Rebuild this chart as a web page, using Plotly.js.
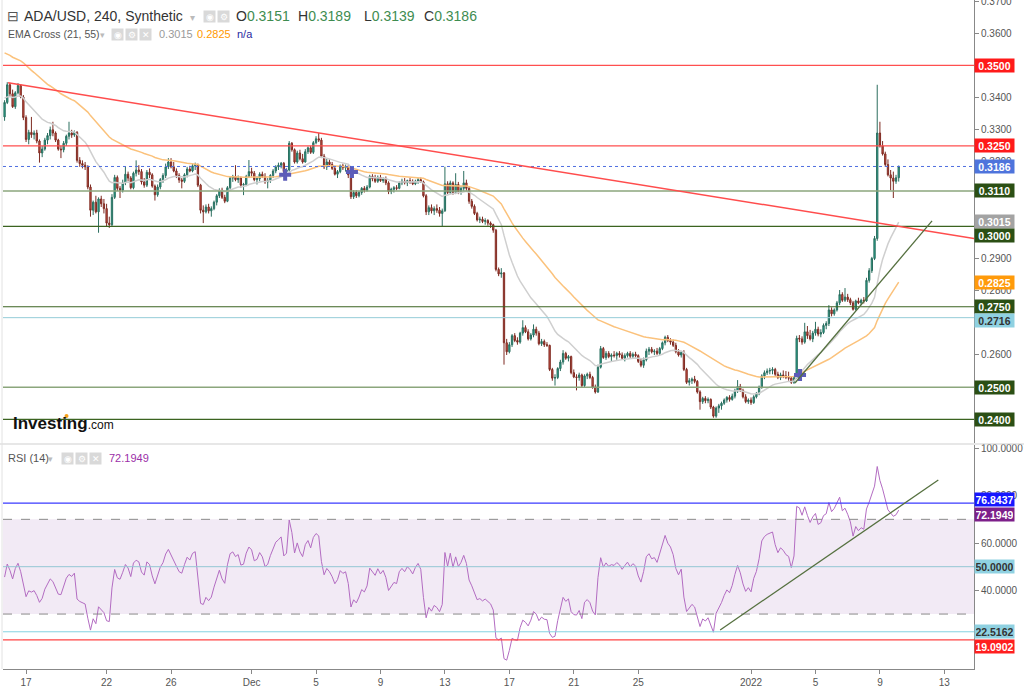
<!DOCTYPE html>
<html><head><meta charset="utf-8">
<script src="https://cdn.plot.ly/plotly-3.0.1.min.js"></script>
<style>html,body{margin:0;padding:0;background:#fff}#chart{width:1024px;height:687px}</style>
</head><body><div id="chart"></div>
<script>
// ---- DATA (prices in units of 0.0001 USD), 4h candles from 2021-11-15 16:00 ----
const firstCandle = '2021-11-15T16:00:00Z';
const candleHours = 4;
const open = [
3340,3385,
3440,3412,3372,3415,3438,3402,
3338,3270,3292,3285,3290,3265,
3228,3240,3268,3282,3300,3290,
3268,3240,3238,3258,3280,3290,
3284,3292,3205,3195,3190,3185,
3122,3050,3075,3045,3085,3070,
3055,3010,3005,3090,3152,3118,
3112,3135,3162,3150,3120,3165,
3175,3170,3138,3128,3168,3160,
3125,3098,3122,3145,3158,3185,
3200,3185,3172,3158,3144,3140,
3160,3178,3172,3188,3192,3128,
3050,3045,3060,3048,3055,3075,
3095,3112,3090,3078,3120,3150,
3155,3145,3150,3128,3130,3155,
3170,3165,3145,3148,3162,3155,
3138,3142,3158,3172,3185,3190,
3196,3170,3175,3258,3238,3200,
3228,3210,3200,3232,3244,3230,
3260,3272,3268,3218,3185,3200,
3192,3180,3162,3170,3188,3182,
3185,3160,3092,3105,3095,3105,
3118,3112,3122,3155,3148,3140,
3152,3142,3148,3135,3108,3115,
3120,3118,3135,3140,3135,3142,
3138,3132,3140,3145,3138,3095,
3045,3058,3048,3055,3050,3040,
3048,3132,3105,3135,3105,3130,
3108,3118,3135,3118,3078,3062,
3040,3020,3022,3015,3018,3010,
3005,2988,2866,2852,2855,2638,
2610,2632,2660,2645,2640,2668,
2685,2672,2650,2662,2680,2668,
2635,2642,2632,2630,2555,2528,
2530,2558,2578,2605,2590,2595,
2545,2532,2530,2538,2505,2535,
2540,2530,2500,2485,2562,2620,
2592,2605,2595,2600,2598,2605,
2600,2590,2598,2605,2596,2602,
2598,2580,2568,2585,2612,2618,
2610,2612,2605,2620,2638,2655,
2645,2640,2630,2610,2600,2608,
2555,2515,2520,2525,2518,2485,
2455,2465,2458,2462,2438,2410,
2435,2442,2450,2460,2468,2462,
2472,2488,2502,2490,2470,2455,
2460,2452,2470,2480,2500,2535,
2545,2550,2552,2555,2540,2530,
2538,2535,2530,2528,2515,2530,
2652,2650,2640,2672,2660,2650,
2668,2680,2665,2670,2692,2698,
2740,2728,2740,2762,2788,2770,
2780,2772,2762,2742,2768,2762,
2770,2768,2832,2862,2900,2962,
3290,3250,3225,3192,3160,3150,
3140,3151];
const high = [
3392,3448,
3446,3425,3420,3445,3442,3408,
3345,3300,3340,3298,3300,3270,
3250,3275,3290,3310,3325,3295,
3272,3250,3265,3285,3325,3300,
3298,3296,3215,3205,3200,3190,
3130,3080,3095,3090,3095,3085,
3070,3030,3100,3160,3158,3125,
3145,3185,3170,3156,3170,3205,
3190,3178,3150,3175,3180,3165,
3130,3130,3150,3165,3195,3212,
3212,3200,3180,3165,3150,3165,
3185,3188,3195,3198,3195,3132,
3065,3068,3070,3062,3080,3100,
3118,3120,3098,3125,3155,3160,
3190,3158,3155,3135,3160,3206,
3182,3172,3155,3168,3170,3165,
3150,3162,3178,3190,3198,3200,
3200,3180,3265,3262,3242,3235,
3238,3225,3240,3248,3250,3265,
3280,3290,3275,3225,3210,3208,
3200,3188,3175,3192,3195,3192,
3190,3165,3112,3112,3110,3122,
3125,3128,3160,3162,3160,3158,
3160,3152,3155,3140,3120,3125,
3128,3140,3148,3150,3145,3150,
3146,3145,3150,3152,3142,3100,
3065,3068,3062,3068,3060,3055,
3185,3140,3142,3140,3165,3138,
3125,3172,3145,3125,3085,3068,
3045,3030,3030,3025,3022,3015,
3008,2992,2872,2870,2858,2650,
2640,2665,2668,2655,2672,2708,
2692,2680,2668,2695,2688,2675,
2650,2648,2640,2632,2560,2540,
2562,2585,2615,2610,2600,2598,
2555,2540,2545,2542,2540,2545,
2548,2535,2508,2570,2628,2625,
2612,2612,2605,2612,2610,2612,
2608,2605,2610,2612,2608,2610,
2602,2588,2592,2620,2625,2625,
2618,2622,2625,2642,2660,2662,
2652,2648,2638,2618,2612,2615,
2560,2528,2530,2535,2522,2490,
2470,2472,2468,2465,2442,2440,
2448,2455,2465,2472,2475,2480,
2495,2522,2510,2495,2478,2465,
2468,2475,2485,2505,2540,2552,
2558,2560,2562,2560,2548,2545,
2552,2550,2548,2532,2535,2660,
2662,2658,2700,2690,2678,2675,
2703,2688,2680,2698,2705,2755,
2748,2745,2768,2802,2795,2808,
2790,2778,2768,2772,2778,2775,
2780,2840,2870,2905,2970,3440,
3325,3265,3232,3208,3175,3170,
3160,3189];
const low = [
3328,3380,
3405,3368,3365,3410,3398,3330,
3262,3255,3275,3270,3258,3198,
3215,3235,3255,3270,3280,3262,
3235,3212,3230,3250,3270,3275,
3278,3198,3185,3180,3175,3115,
3030,3035,3040,2980,3060,3040,
3000,2995,3000,3085,3110,3088,
3105,3128,3140,3115,3115,3155,
3160,3130,3120,3122,3150,3120,
3080,3092,3115,3135,3150,3178,
3180,3168,3150,3135,3118,3135,
3152,3168,3168,3175,3122,3040,
3010,3040,3040,3030,3050,3065,
3088,3085,3072,3075,3115,3138,
3140,3135,3120,3097,3125,3150,
3155,3140,3130,3140,3150,3132,
3118,3135,3150,3165,3175,3180,
3165,3158,3170,3232,3195,3195,
3205,3195,3198,3225,3225,3225,
3255,3262,3212,3178,3175,3185,
3175,3158,3150,3165,3175,3170,
3150,3085,3085,3088,3090,3098,
3105,3108,3118,3140,3135,3135,
3138,3135,3128,3100,3100,3105,
3112,3115,3128,3130,3125,3132,
3128,3128,3132,3135,3090,3035,
3035,3040,3035,3042,3030,2998,
3045,3100,3100,3098,3100,3100,
3098,3110,3110,3070,3055,3035,
3015,3010,3010,3005,3002,2995,
2980,2860,2845,2840,2570,2600,
2605,2625,2640,2632,2635,2660,
2668,2645,2645,2655,2660,2630,
2628,2625,2625,2550,2520,2505,
2525,2550,2570,2585,2580,2540,
2528,2490,2520,2500,2498,2525,
2525,2495,2480,2482,2558,2588,
2585,2590,2580,2592,2585,2592,
2585,2580,2592,2590,2588,2592,
2575,2562,2560,2580,2600,2605,
2600,2600,2600,2615,2630,2640,
2632,2625,2605,2595,2592,2550,
2510,2505,2510,2512,2480,2430,
2448,2450,2450,2432,2405,2405,
2420,2430,2445,2452,2455,2458,
2465,2482,2485,2465,2450,2448,
2445,2448,2465,2475,2495,2525,
2538,2540,2540,2535,2525,2522,
2528,2525,2520,2510,2510,2525,
2640,2632,2635,2650,2645,2640,
2660,2658,2655,2665,2680,2690,
2720,2722,2735,2755,2765,2765,
2765,2755,2738,2738,2758,2755,
2760,2765,2825,2855,2895,2955,
3245,3220,3185,3155,3112,3088,
3132,3139];
const close = [
3385,3440,
3412,3372,3415,3438,3402,3338,
3270,3292,3285,3290,3265,3228,
3240,3268,3282,3300,3290,3268,
3240,3238,3258,3280,3290,3284,
3292,3205,3195,3190,3185,3122,
3050,3075,3045,3085,3070,3055,
3010,3005,3090,3152,3118,3112,
3135,3162,3150,3120,3165,3175,
3170,3138,3128,3168,3160,3125,
3098,3122,3145,3158,3185,3200,
3185,3172,3158,3144,3140,3160,
3178,3172,3188,3192,3128,3050,
3045,3060,3048,3055,3075,3095,
3112,3090,3078,3120,3150,3155,
3145,3150,3128,3130,3155,3170,
3165,3145,3148,3162,3155,3138,
3142,3158,3172,3185,3190,3196,
3170,3175,3258,3238,3200,3228,
3210,3200,3232,3244,3230,3260,
3272,3268,3218,3185,3200,3192,
3180,3162,3170,3188,3182,3185,
3160,3092,3105,3095,3105,3118,
3112,3122,3155,3148,3140,3152,
3142,3148,3135,3108,3115,3120,
3118,3135,3140,3135,3142,3138,
3132,3140,3145,3138,3095,3045,
3058,3048,3055,3050,3040,3048,
3132,3105,3135,3105,3130,3108,
3118,3135,3118,3078,3062,3040,
3020,3022,3015,3018,3010,3005,
2988,2866,2852,2855,2638,2610,
2632,2660,2645,2640,2668,2685,
2672,2650,2662,2680,2668,2635,
2642,2632,2630,2555,2528,2530,
2558,2578,2605,2590,2595,2545,
2532,2530,2538,2505,2535,2540,
2530,2500,2485,2562,2620,2592,
2605,2595,2600,2598,2605,2600,
2590,2598,2605,2596,2602,2598,
2580,2568,2585,2612,2618,2610,
2612,2605,2620,2638,2655,2645,
2640,2630,2610,2600,2608,2555,
2515,2520,2525,2518,2485,2455,
2465,2458,2462,2438,2410,2435,
2442,2450,2460,2468,2462,2472,
2488,2502,2490,2470,2455,2460,
2452,2470,2480,2500,2535,2545,
2550,2552,2555,2540,2530,2538,
2535,2530,2528,2515,2530,2652,
2650,2640,2672,2660,2650,2668,
2680,2665,2670,2692,2698,2740,
2728,2740,2762,2788,2770,2780,
2772,2762,2742,2768,2762,2770,
2768,2832,2862,2900,2962,3290,
3250,3225,3192,3160,3150,3140,
3151,3186];

// indicator settings / starting states
const emaFastLen = 21, emaSlowLen = 55, rsiLen = 14;
const emaFastStart = 0.3400, emaSlowStart = 0.3545;
const rsiAvgGainStart = 15, rsiAvgLossStart = 22;

// horizontal levels
const priceLevels = [0.3500, 0.3250, 0.3110, 0.3000, 0.2750, 0.2500, 0.2400];
const lastPrice = 0.3186;
const lightLevel = 0.2716;
const emaFastLast = 0.3015, emaSlowLast = 0.2825;
const rsiLevels = [76.8437, 50, 22.5162, 19.0902];
const rsiLast = 72.1949;
const rsiBand = [30, 70];

// EMA cross markers
const crossTimes = ['2021-12-03 02:00', '2021-12-07 05:30', '2022-01-04 01:00'];
const crossPrices = [0.3160, 0.3169, 0.2538];

// drawn trend lines
const redTrendT = ['2021-11-15 21:10', '2022-01-14 20:10'];
const redTrendP = [0.3446, 0.2962];
const greenTrendT = ['2022-01-03 17:30', '2022-01-12 05:40'];
const greenTrendP = [0.2513, 0.3017];
const rsiTrendT = ['2021-12-30 02:00', '2022-01-12 15:00'];
const rsiTrendV = [23.3, 86.6];

// axis ticks (ticks whose labels are fully covered by level tags are left out)
const xTickDates = ['2021-11-17','2021-11-22','2021-11-26','2021-12-01','2021-12-05','2021-12-09','2021-12-13','2021-12-17','2021-12-21','2021-12-25','2022-01-01','2022-01-05','2022-01-09','2022-01-13'];
const xTickText = ['17','22','26','Dec','5','9','13','17','21','25','2022','5','9','13'];
const priceTicks = [0.26,0.28,0.29,0.32,0.33,0.34,0.36,0.37];
const rsiTicks = [40,60,80,100];

// ---- BUILD ----
const U = 1e-4;
const t0 = Date.parse(firstCandle), step = candleHours * 3600 * 1000;
const iso = ms => new Date(ms).toISOString().slice(0,16).replace('T',' ');
const times = close.map((_, i) => iso(t0 + i * step));
const O = open.map(v => v*U), H = high.map(v => v*U), L = low.map(v => v*U), C = close.map(v => v*U);

function ema(vals, n, start) { const a = 2/(n+1); let e = start; return vals.map(v => (e = a*v + (1-a)*e)); }
function rsi(op, cl, n, g0, l0) {
  let g = g0, l = l0, prev = op[0];
  return cl.map(c => { const d = c - prev; prev = c; g = (g*(n-1) + Math.max(d,0))/n; l = (l*(n-1) + Math.max(-d,0))/n; return 100 - 100/(1 + g/l); });
}
const emaFast = ema(C, emaFastLen, emaFastStart);
const emaSlow = ema(C, emaSlowLen, emaSlowStart);
const rsiVals = rsi(open, close, rsiLen, rsiAvgGainStart, rsiAvgLossStart);

const traces = [
  {type:'scatter', mode:'lines', x:times, y:emaSlow, line:{color:'#fbc27c', width:1.5}, hoverinfo:'skip', xaxis:'x', yaxis:'y'},
  {type:'scatter', mode:'lines', x:times, y:emaFast, line:{color:'#cfcfcf', width:1.5}, hoverinfo:'skip', xaxis:'x', yaxis:'y'},
  {type:'candlestick', x:times, open:O, high:H, low:L, close:C, xaxis:'x', yaxis:'y',
    increasing:{line:{color:'#2b6e5f', width:1}, fillcolor:'#22ad96'},
    decreasing:{line:{color:'#7e2b22', width:1}, fillcolor:'#d4574a'}, hoverinfo:'skip'},
  {type:'scatter', mode:'markers', x:crossTimes, y:crossPrices, marker:{symbol:'cross', size:10, color:'#5c5cb8'}, xaxis:'x', yaxis:'y', hoverinfo:'skip'},
  {type:'scatter', mode:'lines', x:times, y:rsiVals, line:{color:'#b36cc2', width:1}, xaxis:'x', yaxis:'y2', hoverinfo:'skip'}
];

const shapes = [];
function hline(yref, y, color, width, dash) {
  shapes.push({type:'line', xref:'paper', x0:0, x1:1, yref:yref, y0:y, y1:y, line:{color:color, width:width, dash:dash||'solid'}});
}
const levelStyle = {0.35:['#ff4f4f',1.2], 0.325:['#ff4f4f',1.2], 0.311:['#8ba67c',1.5], 0.3:['#3b6320',1.2], 0.275:['#3b6320',1.2], 0.25:['#8ba67c',1.5], 0.24:['#3b6320',1.2]};
priceLevels.forEach(v => { const s = levelStyle[v]; hline('y', v, s[0], s[1]); });
hline('y', lightLevel, '#95cdd8', 1);
hline('y', lastPrice, '#4f6fe0', 1, 'dot');
shapes.push({type:'rect', xref:'paper', x0:0, x1:1, yref:'y2', y0:rsiBand[0], y1:rsiBand[1], fillcolor:'rgba(150,80,170,0.12)', line:{width:0}, layer:'below'});
hline('y2', rsiBand[1], '#8a8a8a', 1, 'dash');
hline('y2', rsiBand[0], '#8a8a8a', 1, 'dash');
hline('y2', rsiLevels[0], '#3a3aff', 1.2);
hline('y2', rsiLevels[1], '#93c7d4', 1);
hline('y2', rsiLevels[2], '#86d3e0', 1);
hline('y2', rsiLevels[3], '#ff4545', 1.2);
shapes.push({type:'line', xref:'x', yref:'y', x0:redTrendT[0], x1:redTrendT[1], y0:redTrendP[0], y1:redTrendP[1], line:{color:'#ff4d4d', width:1.5}});
shapes.push({type:'line', xref:'x', yref:'y', x0:greenTrendT[0], x1:greenTrendT[1], y0:greenTrendP[0], y1:greenTrendP[1], line:{color:'#55703f', width:1.3}});
shapes.push({type:'line', xref:'x', yref:'y2', x0:rsiTrendT[0], x1:rsiTrendT[1], y0:rsiTrendV[0], y1:rsiTrendV[1], line:{color:'#55703f', width:1.3}});

const PW = 971, PH = 669;
const PX = p => (p - 3) / PW, PY = p => 1 - p / PH;
// panel separator & left border
shapes.push({type:'line', xref:'paper', yref:'paper', x0:PX(0), x1:PX(1024), y0:PY(444), y1:PY(444), line:{color:'#cfcfcf', width:1}});
shapes.push({type:'line', xref:'paper', yref:'paper', x0:PX(2), x1:PX(2), y0:0, y1:1, line:{color:'#e2e2e2', width:1}});
shapes.push({type:'circle', xref:'paper', yref:'paper', x0:PX(64.5), x1:PX(68.5), y0:PY(418), y1:PY(414), fillcolor:'#f5a01a', line:{width:0}});

const ann = [];
function tag(yref, val, text, bg, fg, yshift) {
  ann.push({xref:'paper', x:1, xanchor:'left', yref:yref, y:val, yanchor:'middle', yshift:yshift||0,
    text:'<b>'+text+'</b>', showarrow:false, bgcolor:bg, font:{color:fg||'#fff', size:10.5, family:'Liberation Sans, Arial, sans-serif'},
    width:37, height:11, borderpad:1, align:'center'});
}
const f4 = v => v.toFixed(4);
tag('y', priceLevels[0], f4(priceLevels[0]), '#ff1a1a');
tag('y', priceLevels[1], f4(priceLevels[1]), '#ff1a1a');
tag('y', lastPrice, f4(lastPrice), '#4e74dc');
tag('y', priceLevels[2], f4(priceLevels[2]), '#2b4f14');
tag('y', emaFastLast, f4(emaFastLast), '#a3a3a3');
tag('y', priceLevels[3], f4(priceLevels[3]), '#2b4f14', null, -9);
tag('y', emaSlowLast, f4(emaSlowLast), '#ff9a0a');
tag('y', priceLevels[4], f4(priceLevels[4]), '#2b4f14');
tag('y', lightLevel, f4(lightLevel), '#8fd1e1', '#333', -3);
tag('y', priceLevels[5], f4(priceLevels[5]), '#2b4f14');
tag('y', priceLevels[6], f4(priceLevels[6]), '#2b4f14');
tag('y2', rsiLevels[0], f4(rsiLevels[0]), '#1717ff', null, 4);
tag('y2', rsiLast, f4(rsiLast), '#7d1f8a');
tag('y2', rsiLevels[1], f4(rsiLevels[1]), '#8fd1e1', '#333');
tag('y2', rsiLevels[2], f4(rsiLevels[2]), '#8fd1e1', '#333');
tag('y2', rsiLevels[3], f4(rsiLevels[3]), '#ff1f1f', null, -7);

function txt(px, py, text, size, color, extra) {
  ann.push(Object.assign({xref:'paper', yref:'paper', x:PX(px), y:PY(py), xanchor:'left', yanchor:'middle', text:text, showarrow:false,
    font:{size:size, color:color, family:'Liberation Sans, Arial, sans-serif'}}, extra||{}));
}
function icon(px, py, glyph) {
  txt(px, py, glyph, 9, '#ffffff', {bgcolor:'#d9d9d9', width:11, height:11, borderpad:0, align:'center'});
}
txt(5, 16.5, '⊟', 14, '#555');
txt(22, 16.5, 'ADA/USD, 240, Synthetic', 14, '#333');
txt(188, 17, '▾', 10, '#bbb');
icon(203, 16.5, '◉'); icon(217, 16.5, '⚙');
const ohlcNames = ['O','H','L','C'];
const ohlcLast = [open[open.length-1], high[high.length-1], low[low.length-1], close[close.length-1]];
const ohlcX = [234, 296, 362, 422];
ohlcNames.forEach((n, k) => txt(ohlcX[k], 16.5, n + '<span style="color:#3e8c50">' + f4(ohlcLast[k]*U) + '</span>', 14, '#333'));
txt(6, 34, 'EMA Cross (21, 55)', 10.5, '#555');
txt(98, 34.5, '▾', 9, '#bbb');
icon(111, 34, '◉'); icon(125, 34, '⚙'); icon(139, 34, '✕');
txt(157, 34, f4(emaFastLast), 11, '#9a9a9a');
txt(195, 34, f4(emaSlowLast), 11, '#ff9800');
txt(235, 34, 'n/a', 11, '#2a2aa0');
txt(6, 458, 'RSI (14)', 11, '#555');
txt(46, 458.5, '▾', 9, '#bbb');
icon(61, 458, '◉'); icon(75, 458, '⚙'); icon(89, 458, '✕');
txt(107, 458, f4(rsiLast), 11, '#9b30a8');
txt(11, 423, '<b>Investing</b><span style="font-size:12px">.com</span>', 17, '#111');

const axisFont = {size:10, color:'#555', family:'Liberation Sans, Arial, sans-serif'};
const layout = {
  width:1024, height:687, margin:{l:3, r:50, t:0, b:18, pad:0},
  paper_bgcolor:'#ffffff', plot_bgcolor:'#ffffff', showlegend:false,
  font:{family:'Liberation Sans, Arial, sans-serif', size:11, color:'#555'},
  xaxis:{type:'date', range:['2021-11-15 13:40','2022-01-14 20:10'], anchor:'y2', tickmode:'array', tickvals:xTickDates, ticktext:xTickText,
    ticks:'outside', ticklen:4, tickcolor:'#888', showline:true, linecolor:'#888', showgrid:false, zeroline:false,
    rangeslider:{visible:false}, tickfont:{size:10, color:'#555', family:'Liberation Sans, Arial, sans-serif'}, fixedrange:true},
  yaxis:{domain:[(PH-443)/PH, 1], range:[0.23264, 0.37035], side:'right', anchor:'x', tickmode:'array', tickvals:priceTicks,
    ticktext:priceTicks.map(f4), ticks:'outside', ticklen:4, tickcolor:'#888', showline:true, linecolor:'#888',
    showgrid:false, zeroline:false, tickfont:axisFont, ticklabeloverflow:'allow'},
  yaxis2:{domain:[0, (PH-445)/PH], range:[6.8, 101.39], side:'right', anchor:'x', tickmode:'array', tickvals:rsiTicks,
    ticktext:rsiTicks.map(f4), ticks:'outside', ticklen:4, tickcolor:'#888', showline:true, linecolor:'#888',
    showgrid:false, zeroline:false, tickfont:axisFont, ticklabeloverflow:'allow'},
  shapes:shapes, annotations:ann
};
Plotly.newPlot('chart', traces, layout, {displayModeBar:false, staticPlot:true});
</script>
</body></html>
